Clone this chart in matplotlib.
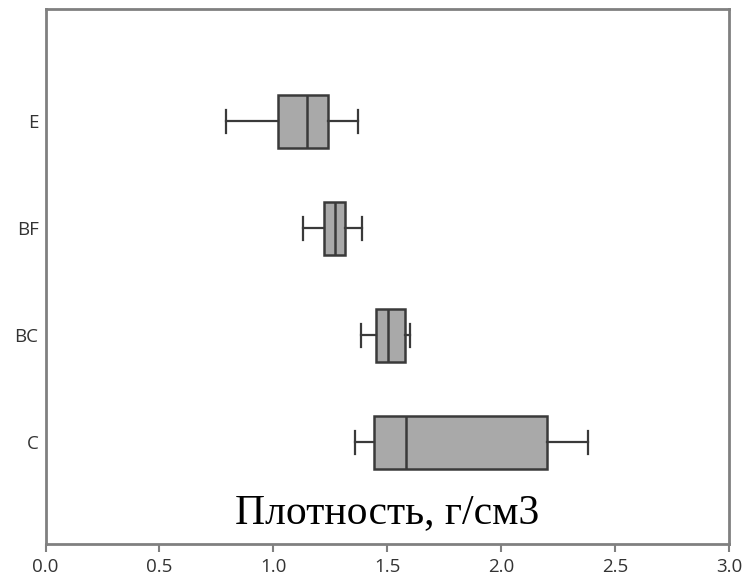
import matplotlib
matplotlib.use("Agg")
import matplotlib.pyplot as plt

# groups from bottom to top
groups = ["C", "BC", "BF", "E"]
whisker_lo = [1.36, 1.384, 1.13, 0.791]
q1 = [1.441, 1.451, 1.224, 1.019]
median = [1.58, 1.501, 1.272, 1.149]
q3 = [2.203, 1.578, 1.316, 1.239]
whisker_hi = [2.38, 1.60, 1.391, 1.372]

stats = []
for i, g in enumerate(groups):
    stats.append({"label": g, "whislo": whisker_lo[i], "q1": q1[i], "med": median[i],
                  "q3": q3[i], "whishi": whisker_hi[i], "fliers": []})

fig = plt.figure(figsize=(7.47, 5.78), dpi=100)
ax = fig.add_axes([0.061, 0.0588, 0.915, 0.9256])

edge = "#3a3a3a"
ax.bxp(stats, positions=range(len(groups)), vert=False, widths=0.5,
       patch_artist=True, showfliers=False,
       boxprops=dict(facecolor="#a9a9a9", edgecolor=edge, linewidth=1.8),
       medianprops=dict(color=edge, linewidth=1.8),
       whiskerprops=dict(color=edge, linewidth=1.6),
       capprops=dict(color=edge, linewidth=1.6),
       capwidths=0.21)

ax.set_xlim(0, 3.0)
ax.set_ylim(-0.95, 4.05)
ax.set_xticks([0, 0.5, 1.0, 1.5, 2.0, 2.5, 3.0])
ax.set_xticklabels(["0.0", "0.5", "1.0", "1.5", "2.0", "2.5", "3.0"])
ax.tick_params(axis="x", length=6, width=1.5, color="#808080", labelsize=13.5,
               labelcolor="#333333", pad=4)
ax.tick_params(axis="y", length=0, labelsize=13.5, labelcolor="#333333", pad=5)
for lbl in ax.get_xticklabels() + ax.get_yticklabels():
    lbl.set_family("Open Sans")

for sp in ax.spines.values():
    sp.set_color("#808080")
    sp.set_linewidth(2)

ax.text(0.5, 0.039, "Плотность, г/см3", transform=ax.transAxes, ha="center",
        va="baseline", fontsize=30, family="Liberation Serif", color="black")

fig.savefig("out.png", dpi=100)
